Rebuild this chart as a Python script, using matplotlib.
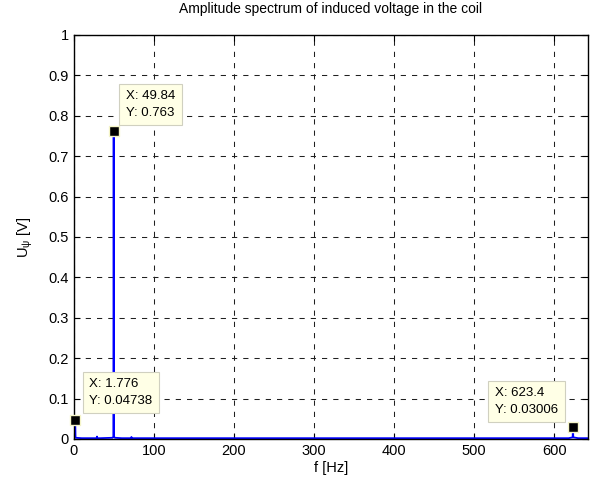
import matplotlib.pyplot as plt

plt.rcParams['font.family'] = ['Liberation Sans', 'DejaVu Sans']
plt.rcParams['mathtext.fontset'] = 'custom'
plt.rcParams['mathtext.rm'] = 'Liberation Sans'

# spectrum samples (Hz, V)
freq = [0.0, 1.776, 2.2, 10.0, 25.0, 28.5, 29.0, 29.5, 33.0, 48.5, 49.4, 49.84,
        50.3, 51.2, 60.0, 71.5, 72.0, 72.5, 120.0, 250.0, 400.0, 560.0, 618.0,
        623.0, 623.4, 623.8, 630.0, 642.0]
amp = [0.02, 0.04738, 0.003, 0.002, 0.002, 0.002, 0.006, 0.002, 0.002, 0.003, 0.006, 0.763,
       0.006, 0.003, 0.002, 0.002, 0.005, 0.002, 0.002, 0.002, 0.002, 0.002, 0.002,
       0.004, 0.03006, 0.004, 0.002, 0.002]

# data tips: point, label, box offset in pixels, alignment
tip_x = [49.84, 1.776, 623.4]
tip_y = [0.763, 0.04738, 0.03006]
tip_txt = ["X: 49.84\nY: 0.763", "X: 1.776\nY: 0.04738", "X: 623.4\nY: 0.03006"]
tip_off = [(12, 12), (14, 13), (-15, 11)]
tip_ha = ["left", "left", "right"]

fig = plt.figure(figsize=(5.95, 4.84), dpi=100)
ax = fig.add_axes([0.124, 0.093, 0.864, 0.835])

ax.plot(freq, amp, color='#0000ff', lw=1.3)
ax.set_xlim(0, 642)
ax.set_ylim(0, 1)
ax.set_xticks(range(0, 700, 100))
ax.set_yticks([i / 10 for i in range(11)])
ax.set_yticklabels(["0", "0.1", "0.2", "0.3", "0.4", "0.5", "0.6", "0.7", "0.8", "0.9", "1"])
ax.tick_params(direction='in', top=True, right=True, length=4, labelsize=10.5)
ax.grid(True, color='#202020', lw=0.75, linestyle=(0, (5, 5.8)))
ax.set_axisbelow(True)
for s in ax.spines.values():
    s.set_linewidth(1.0)

ax.set_title("Amplitude spectrum of induced voltage in the coil", fontsize=10, pad=16)
ax.set_xlabel("f [Hz]", fontsize=10.5, labelpad=2)
ax.set_ylabel("U$_\\mathregular{ψ}$ [V]", fontsize=10.5, labelpad=10)

for x, y, t, off, ha in zip(tip_x, tip_y, tip_txt, tip_off, tip_ha):
    ax.plot(x, y, marker='s', ms=6.5, color='k', mec='#f5f5c8', mew=1, zorder=5, clip_on=False)
    ax.annotate(t, (x, y), xytext=off, textcoords='offset pixels', ha=ha, va='bottom',
                multialignment='left', fontsize=9.5, linespacing=1.5, zorder=6,
                bbox=dict(boxstyle='square,pad=0.5', fc='#ffffe6', ec='#d0d0c0', lw=0.8))

fig.savefig("out.png", dpi=100)
